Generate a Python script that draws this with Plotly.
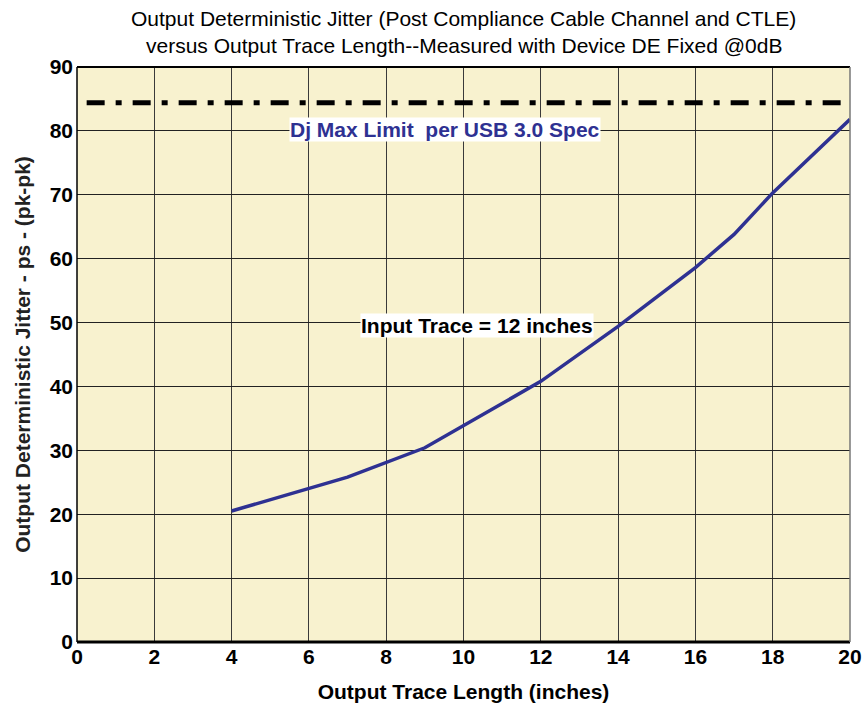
import plotly.graph_objects as go

# Data
trace_length = [4, 7, 9, 12, 14, 16, 17, 18, 20]
jitter_ps = [20.5, 25.8, 30.4, 40.8, 49.4, 58.6, 63.8, 70.3, 81.8]
limit_x = [0.25, 20]
limit_y = [84.4, 84.4]
x_ticks = [0, 2, 4, 6, 8, 10, 12, 14, 16, 18, 20]
y_ticks = [0, 10, 20, 30, 40, 50, 60, 70, 80, 90]

FONT = "Liberation Sans, Arial, sans-serif"
BLUE = "#2E3192"
W, H = 865, 710
ML, MR, MT, MB = 77, 15, 67, 68

fig = go.Figure()
fig.add_trace(go.Scatter(x=limit_x, y=limit_y, mode="lines",
                         line=dict(color="black", width=5, dash="18px,11px,6px,11px"),
                         hoverinfo="skip", showlegend=False))
fig.add_trace(go.Scatter(x=trace_length, y=jitter_ps, mode="lines",
                         line=dict(color=BLUE, width=3.5), showlegend=False))

fig.update_layout(
    width=W, height=H,
    margin=dict(l=ML, r=MR, t=MT, b=MB, autoexpand=False),
    paper_bgcolor="white",
    plot_bgcolor="#F8F2CF",
    font=dict(family=FONT, color="black"),
    showlegend=False,
)
fig.update_xaxes(range=[0, 20], tickvals=x_ticks, showgrid=True, gridcolor="#3a3a3a", gridwidth=1,
                 zeroline=False, showline=False, ticks="", automargin=False,
                 tickfont=dict(family=FONT, size=21, color="black", weight="bold"),
                 title=dict(text="<b>Output Trace Length (inches)</b>", font=dict(family=FONT, size=21, color="black"), standoff=17))
fig.update_yaxes(range=[0, 90], tickvals=y_ticks, showgrid=True, gridcolor="#222", gridwidth=1.2,
                 zeroline=False, showline=False, ticks="", ticklabelstandoff=3, automargin=False,
                 tickfont=dict(family=FONT, size=21, color="black", weight="bold"),
                 title=dict(text="<b>Output Deterministic Jitter - ps - (pk-pk)</b>", font=dict(family=FONT, size=21, color="#222"), standoff=13))

# frame
fig.add_shape(type="line", xref="x domain", yref="y domain", x0=0, x1=1, y0=0, y1=0, line=dict(color="black", width=3))
fig.add_shape(type="line", xref="x domain", yref="y domain", x0=0, x1=0, y0=0, y1=1, line=dict(color="black", width=1.5))
fig.add_shape(type="line", xref="x domain", yref="y domain", x0=0, x1=1, y0=1, y1=1, line=dict(color="black", width=2))
fig.add_shape(type="line", xref="x domain", yref="y domain", x0=1, x1=1, y0=0, y1=1, line=dict(color="#777", width=1.5))

fig.add_annotation(x=9.52, y=80.2, xref="x", yref="y", text="<b>Dj Max Limit  per USB 3.0 Spec</b>",
                   showarrow=False, bgcolor="white", font=dict(family=FONT, size=21, color=BLUE), borderpad=0)
fig.add_annotation(x=10.35, y=49.5, xref="x", yref="y", text="<b>Input Trace = 12 inches</b>",
                   showarrow=False, bgcolor="white", font=dict(family=FONT, size=21, color="black"), borderpad=0)

plot_h = H - MT - MB
for text, ypx in [("Output Deterministic Jitter (Post Compliance Cable Channel and CTLE)", 19),
                  ("versus Output Trace Length--Measured with Device DE Fixed @0dB", 46)]:
    fig.add_annotation(x=0.5, y=1 + (MT - ypx) / plot_h, xref="x domain", yref="paper", yanchor="middle",
                       text=text, showarrow=False, borderpad=0, font=dict(family=FONT, size=21, color="black"))

fig.write_html("out.html",
               config={"displayModeBar": False},
               post_script="document.body.style.margin='0';document.body.style.overflow='hidden';")
